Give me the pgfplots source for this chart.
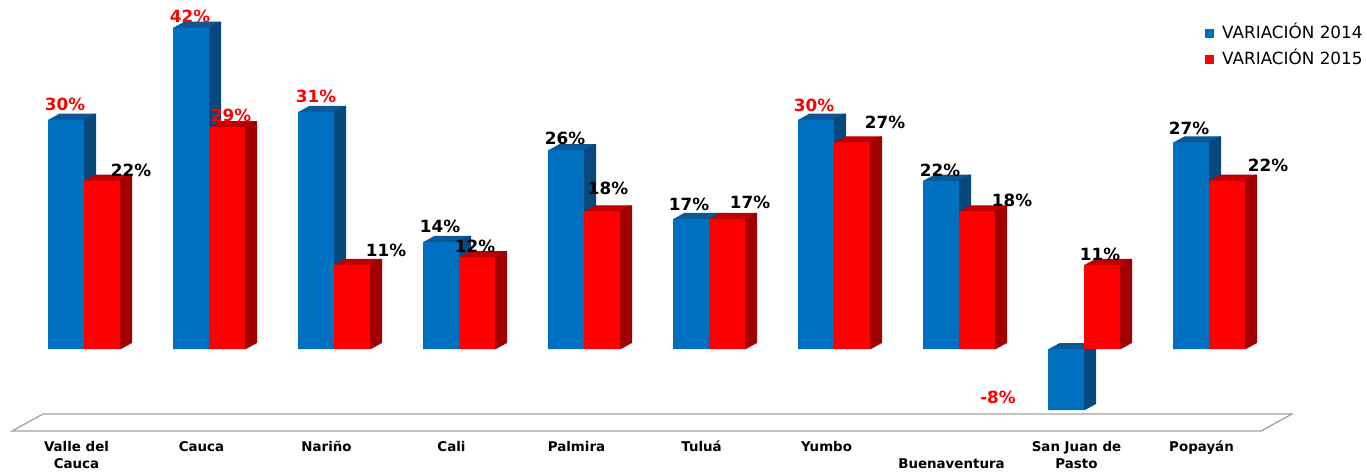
\documentclass[border=0pt]{standalone}
\usepackage{fontspec}
\setmainfont{DejaVu Sans}
\usepackage{pgfplots}
\usepackage{pgfplotstable}
\pgfplotsset{compat=1.18}
\definecolor{blueF}{RGB}{0,112,192}
\definecolor{blueT}{RGB}{11,88,150}
\definecolor{blueS}{RGB}{8,73,125}
\definecolor{redF}{RGB}{255,0,0}
\definecolor{redT}{RGB}{192,0,0}
\definecolor{redS}{RGB}{160,0,0}
\definecolor{labred}{RGB}{255,0,0}
\pgfplotstableread{
x v14 v15 dxa dya dxb dyb ca cb
0 30 22 -19 15.5 47 10.7 1 0
1 42 29 -19 11.7 22 12 1 1
2 31 11 -18 15.9 52 14 1 0
3 14 12 -19 16 16 11 0 0
4 26 18 -19 12 24 23 0 0
5 17 17 -20 15 41 17 0 0
6 30 27 -20 14.5 51 20 1 0
7 22 18 -19 10.7 53 11 0 0
8 -8 11 -86 13.2 16 10 1 0
9 27 22 -20 14.5 59 15.7 0 0
}\data
\begin{document}
\begin{tikzpicture}
\begin{axis}[
  name=ax,
  scale only axis, width=683.5pt, height=235.5pt,
  xmin=-0.672, xmax=10.264, ymin=-15.948, ymax=45.621,
  clip=false,
  axis line style={draw=none}, tick style={draw=none},
  major tick length=0pt,
  ytick=\empty,
  xtick={0,...,9},
  xticklabels={{\strut Valle del\\Cauca},\strut Cauca,\strut Nariño,\strut Cali,\strut Palmira,\strut Tuluá,\strut Yumbo,{\strut\\Buenaventura},{\strut San Juan de\\Pasto},\strut Popayán},
  xticklabel style={font=\fontsize{6.7}{8.5}\selectfont\bfseries, align=center, anchor=north, inner sep=0pt, yshift=16pt, xshift=-3.75pt},
  legend style={draw=none, fill=none, at={(axis description cs:0.8815,0.951)}, anchor=north west,
     font=\fontsize{8.4}{10}\selectfont, inner sep=0pt,
     nodes={inner ysep=1pt, inner xsep=4pt, text height=6.5pt, text depth=1.5pt}, row sep=3pt},
  legend cell align=left,
]
% floor
\draw[gray!75, line width=0.6pt] (axis cs:-0.576,-10.719) -- (axis cs:9.416,-10.719) -- (axis cs:9.664,-8.497) -- (axis cs:-0.328,-8.497) -- cycle;
% ---- 2014 series ----
\pgfplotsinvokeforeach{1,...,12}{
  \addplot[ybar, bar width=0.288, bar shift=-0.144, fill=blueT, draw=none, forget plot, xshift=#1*0.4583pt, yshift=#1*0.25pt] table[x=x,y=v14]{\data};
}
\pgfplotsinvokeforeach{0,...,12}{
  \addplot[ybar, bar width=1.2pt, bar shift=0, fill=blueS, draw=none, forget plot, xshift=#1*0.4583pt, yshift=#1*0.25pt] table[x=x,y=v14]{\data};
}
\addplot[ybar, bar width=0.288, bar shift=-0.144, fill=blueF, draw=none, forget plot] table[x=x,y=v14]{\data};
% ---- 2015 series ----
\pgfplotsinvokeforeach{1,...,12}{
  \addplot[ybar, bar width=0.288, bar shift=0.144, fill=redT, draw=none, forget plot, xshift=#1*0.4583pt, yshift=#1*0.25pt] table[x=x,y=v15]{\data};
}
\pgfplotsinvokeforeach{0,...,12}{
  \addplot[ybar, bar width=1.2pt, bar shift=0.288, fill=redS, draw=none, forget plot, xshift=#1*0.4583pt, yshift=#1*0.25pt] table[x=x,y=v15]{\data};
}
\addplot[ybar, bar width=0.288, bar shift=0.144, fill=redF, draw=none, forget plot] table[x=x,y=v15]{\data};
% ---- labels ----
\addplot[ybar, bar width=0.288, bar shift=-0.144, draw=none, fill=none, forget plot,
  point meta=explicit symbolic,
  visualization depends on={\thisrow{dxa} \as \ldx},
  visualization depends on={\thisrow{dya} \as \ldy},
  visualization depends on={\thisrow{ca} \as \lc},
  nodes near coords={\ifdim\lc pt>0.5pt\color{labred}\fi\pgfplotspointmeta\%},
  every node near coord/.append style={anchor=center, xshift=\ldx*0.5pt, yshift=\ldy*0.5pt, font=\fontsize{8.4}{10}\selectfont\bfseries, text=black},
] table[x=x,y=v14,meta=v14]{\data};
\addplot[ybar, bar width=0.288, bar shift=0.144, draw=none, fill=none, forget plot,
  point meta=explicit symbolic,
  visualization depends on={\thisrow{dxb} \as \ldx},
  visualization depends on={\thisrow{dyb} \as \ldy},
  visualization depends on={\thisrow{cb} \as \lc},
  nodes near coords={\ifdim\lc pt>0.5pt\color{labred}\fi\pgfplotspointmeta\%},
  every node near coord/.append style={anchor=center, xshift=\ldx*0.5pt, yshift=\ldy*0.5pt, font=\fontsize{8.4}{10}\selectfont\bfseries, text=black},
] table[x=x,y=v15,meta=v15]{\data};
\addlegendimage{legend image code/.code={\fill[blueF] (0pt,-2pt) rectangle (4pt,2pt);}}
\addlegendentry{VARIACIÓN 2014}
\addlegendimage{legend image code/.code={\fill[redF] (0pt,-2pt) rectangle (4pt,2pt);}}
\addlegendentry{VARIACIÓN 2015}
\end{axis}
\pgfresetboundingbox
\useasboundingbox (ax.south west) rectangle (ax.north east);
\end{tikzpicture}
\end{document}
